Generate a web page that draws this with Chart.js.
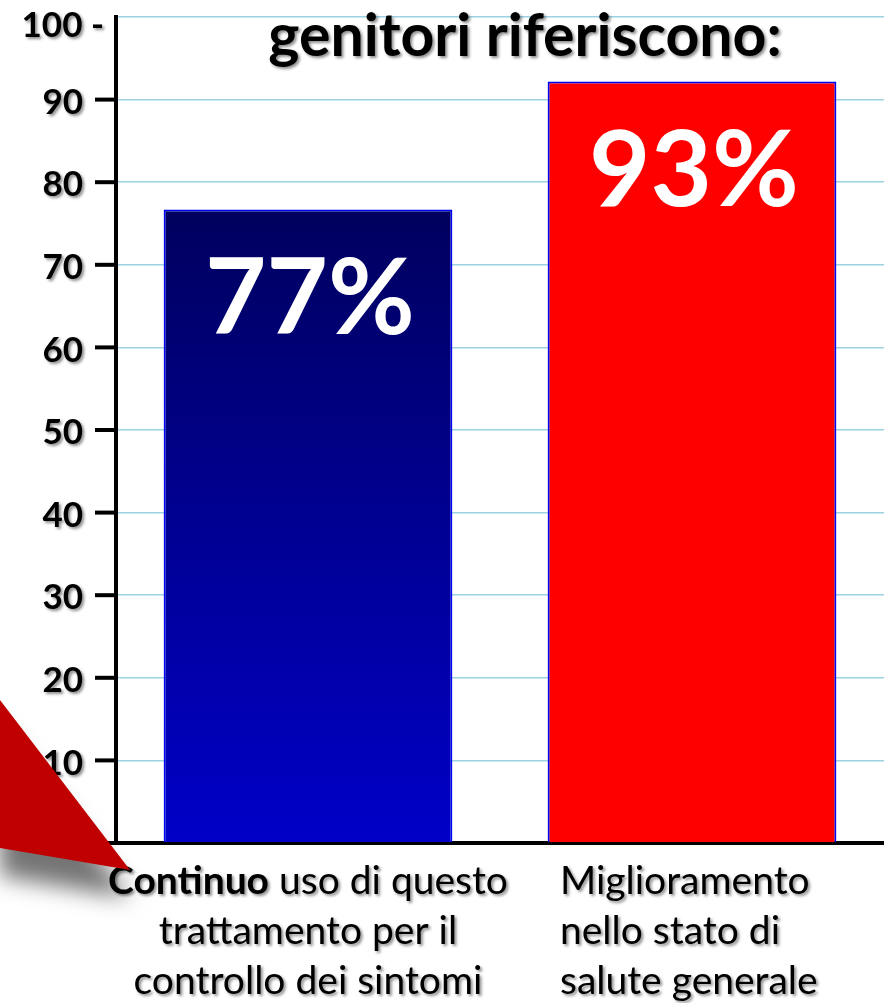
<!DOCTYPE html>
<html>
<head>
<meta charset="utf-8">
<script src="https://cdn.jsdelivr.net/npm/chart.js@4"></script>
<style>
  body { margin: 0; background: #fff; }
  canvas { display: block; }
</style>
</head>
<body>
<canvas id="chart" width="884" height="1003"></canvas>
<script>
const categories = [
	["Continuo uso di questo", "trattamento per il", "controllo dei sintomi"],
	["Miglioramento", "nello stato di", "salute generale"]
];
const values = [76.7, 92.2];
const valueLabels = ["77%", "93%"];
const yTickLabels = ["0", "10", "20", "30", "40", "50", "60", "70", "80", "90", "100 -"];
const title = "genitori riferiscono:";

const FONT = "Lato, 'Open Sans', sans-serif";

function shadow(ctx, on) {
	ctx.shadowColor = on ? 'rgba(0,0,0,0.45)' : 'transparent';
	ctx.shadowBlur = on ? 3 : 0;
	ctx.shadowOffsetX = on ? 2 : 0;
	ctx.shadowOffsetY = on ? 2 : 0;
}

const overlay = {
	id: 'overlay',
	afterDatasetsDraw(chart) {
		const ctx = chart.ctx;
		const meta = chart.getDatasetMeta(0);
		ctx.save();
		ctx.fillStyle = '#fff';
		ctx.textAlign = 'center';
		ctx.textBaseline = 'middle';
		ctx.font = "bold 106px " + FONT;
		meta.data.forEach((bar, i) => {
			ctx.fillText(valueLabels[i], bar.x + 2, bar.y + 90);
		});
		ctx.restore();
	},
	afterDraw(chart) {
		const ctx = chart.ctx;
		const y = chart.scales.y;
		const x = chart.scales.x;
		ctx.save();

		// y tick labels + marks
		ctx.textAlign = 'right';
		ctx.textBaseline = 'middle';
		ctx.font = "bold 35px " + FONT;
		y.ticks.forEach((t, i) => {
			const py = y.getPixelForValue(t.value);
			const lab = yTickLabels[i];
			shadow(ctx, true);
			ctx.fillStyle = '#000';
			if (lab.endsWith('-')) {
				ctx.fillText(lab, 104, py + 9);
			} else {
				ctx.fillText(lab, 83, py + 3);
				shadow(ctx, false);
				ctx.fillRect(95, py - 2, 20, 4);
			}
		});

		// title
		shadow(ctx, true);
		ctx.textAlign = 'center';
		ctx.textBaseline = 'alphabetic';
		ctx.font = "bold 59px " + FONT;
		ctx.fillText(title, 525, 56);

		// category labels
		const fs = 39;
		ctx.font = fs + "px " + FONT;
		categories.forEach((lines, i) => {
			const cx = x.getPixelForValue(i);
			lines.forEach((line, j) => {
				const by = 894 + j * 50;
				if (i == 0) {
					ctx.textAlign = 'center';
					if (j == 0) {
						const first = "Continuo";
						const rest = line.slice(first.length);
						ctx.font = "bold " + fs + "px " + FONT;
						const w1 = ctx.measureText(first).width;
						ctx.font = fs + "px " + FONT;
						const w2 = ctx.measureText(rest).width;
						const left = cx - (w1 + w2) / 2;
						ctx.textAlign = 'left';
						ctx.font = "bold " + fs + "px " + FONT;
						ctx.fillText(first, left, by);
						ctx.font = fs + "px " + FONT;
						ctx.fillText(rest, left + w1, by);
					} else {
						ctx.fillText(line, cx, by);
					}
				} else {
					ctx.textAlign = 'left';
					ctx.fillText(line, cx - 132, by);
				}
			});
		});

		// red callout pointer in the corner
		ctx.shadowColor = 'rgba(0,0,0,0.55)';
		ctx.shadowBlur = 22;
		ctx.shadowOffsetX = 0;
		ctx.shadowOffsetY = 28;
		ctx.fillStyle = '#c00000';
		ctx.beginPath();
		ctx.moveTo(0, 700);
		ctx.lineTo(130, 870);
		ctx.lineTo(0, 848);
		ctx.closePath();
		ctx.fill();
		ctx.restore();
	}
};

new Chart("chart", {
	type: "bar",
	data: {
		labels: categories,
		datasets: [{
			data: values,
			backgroundColor: ctx => {
				if (ctx.dataIndex == 1) return '#ff0000';
				const chart = ctx.chart;
				if (!chart.chartArea) return '#0000a0';
				const ys = chart.scales.y;
				const g = chart.ctx.createLinearGradient(0, ys.getPixelForValue(values[0]), 0, ys.getPixelForValue(0));
				g.addColorStop(0, '#00005e');
				g.addColorStop(1, '#0000c8');
				return g;
			},
			borderColor: '#0000f0',
			borderWidth: 2,
			barPercentage: 0.752,
			categoryPercentage: 1,
		}],
	},
	options: {
		responsive: false,
		devicePixelRatio: 1,
		animation: false,
		layout: { padding: { top: 17, right: -6, left: 0, bottom: 0 } },
		plugins: {
			legend: { display: false },
			tooltip: { enabled: false },
		},
		scales: {
			x: {
				afterFit: s => { s.height = 160; },
				grid: { display: false },
				border: { color: '#000', width: 4 },
				ticks: { display: false },
			},
			y: {
				min: 0,
				max: 100,
				afterFit: s => { s.width = 116; },
				ticks: { display: false, stepSize: 10 },
				grid: { color: '#9dd2e2', lineWidth: 1.5, drawTicks: false },
				border: { color: '#000', width: 4 },
			},
		},
	},
	plugins: [overlay],
});
</script>
</body>
</html>
